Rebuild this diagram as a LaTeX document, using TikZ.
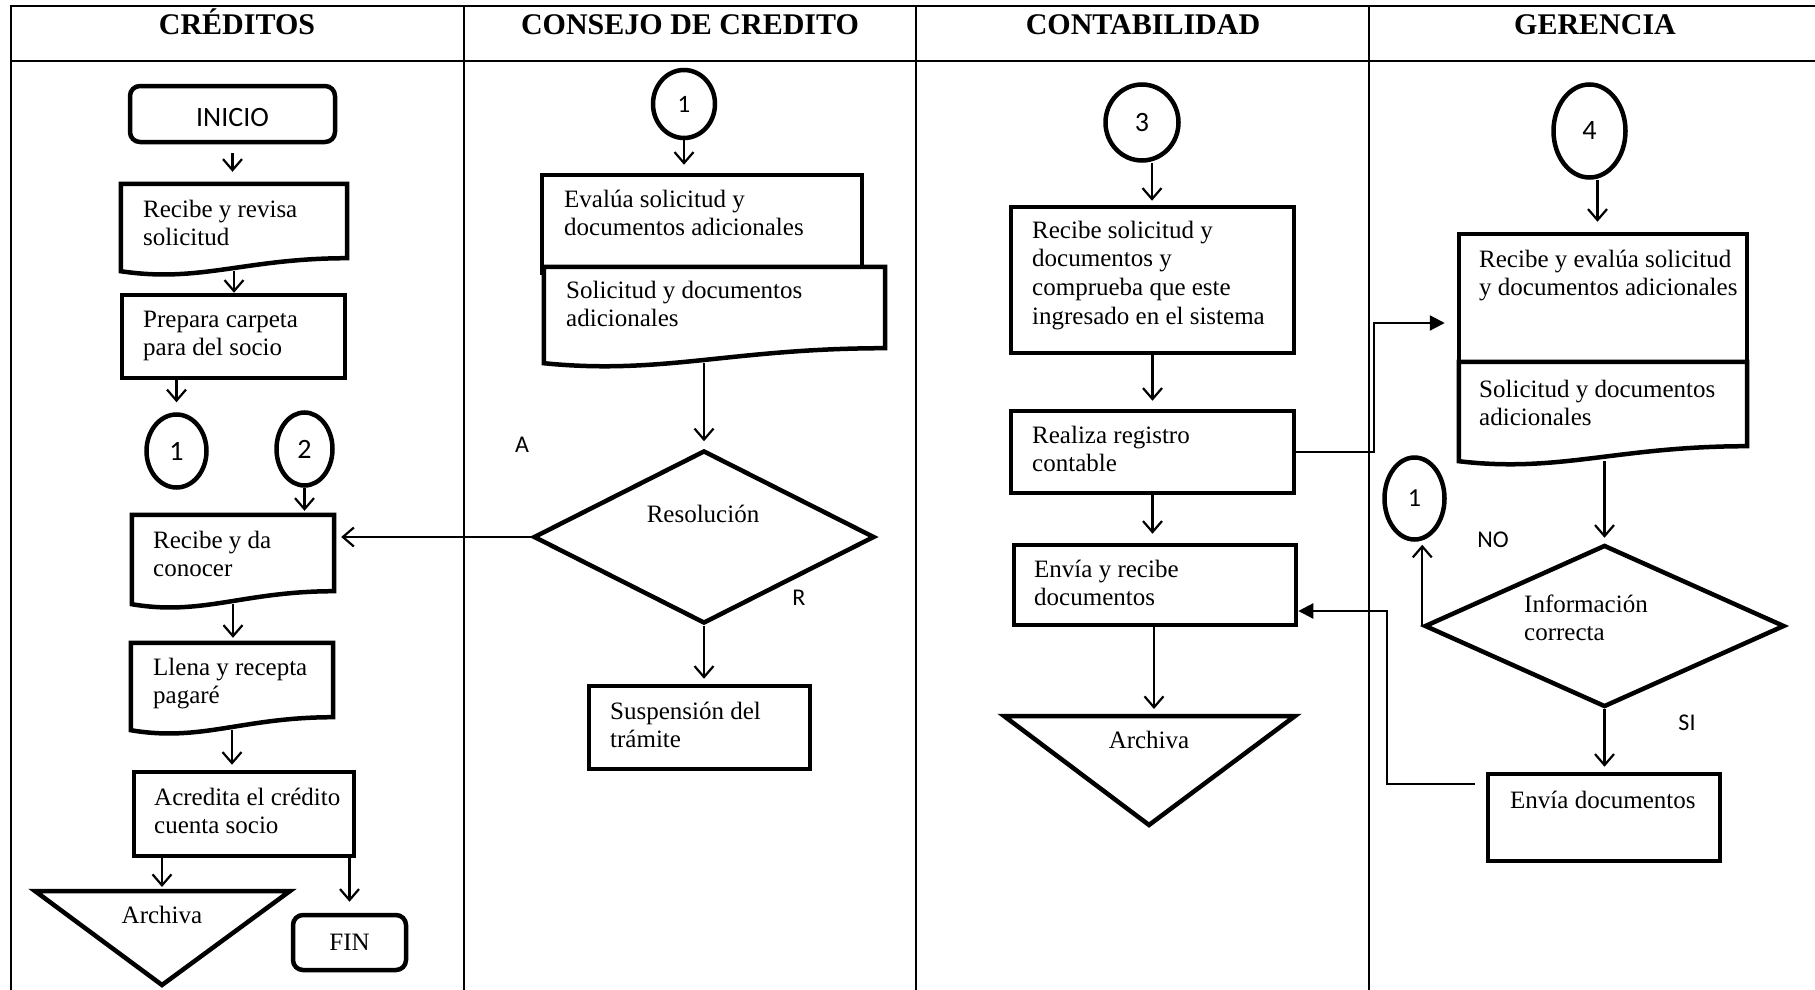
\documentclass[tikz,border=0pt]{standalone}
\usepackage{fontspec}
\setmainfont{Liberation Serif}
\newfontfamily\calfont{Carlito}
\usetikzlibrary{arrows.meta,shapes.geometric,fit,calc}
\newcommand\docshape[2]{%
  \draw[line width=4.5, fill=white] (#1.north west) -- (#1.north east) -- ($(#1.south east)+(0,-#2)$)
    .. controls ($(#1.south west)!0.55!(#1.south east)+(0,-#2)$) and ($(#1.south west)!0.35!(#1.south east)+(0,12)$) .. (#1.south west) -- cycle;}
\begin{document}
\begin{tikzpicture}[x=1pt,y=-1pt,
  frame/.style={line width=2.2},
  boxline/.style={draw, line width=4.5},
  proc/.style={boxline, rectangle, inner sep=0},
  term/.style={boxline, rectangle, rounded corners=10, inner sep=0},
  area/.style={inner sep=0},
  conn/.style={boxline, ellipse, inner sep=0, font=\calfont\fontsize{28}{30}\selectfont},
  dec/.style={boxline, diamond, inner sep=0},
  txt/.style={font=\fontsize{25}{28.8}\selectfont, align=left, inner sep=0},
  two/.style={txt, anchor=base west, yshift=-28.8pt},
  four/.style={txt, anchor=base west, yshift=-86.4pt},
  title/.style={font=\bfseries\fontsize{30}{36}\selectfont, inner sep=0},
  lab/.style={font=\calfont\fontsize{24}{28}\selectfont, inner sep=0},
  arr/.style={line width=2.2, -{Straight Barb[length=11,width=19]}},
  farr/.style={line width=2.2, -{Triangle[length=15,width=15]}},
]
\fill[white] (0,0) rectangle (1815,990);
\useasboundingbox (0,0) rectangle (1815,990);

% ---------- frame ----------
\draw[frame] (1815,6) -- (11,6) -- (11,990);
\draw[frame] (11,61) -- (1815,61);
\draw[frame] (464,6) -- (464,990);
\draw[frame] (916,6) -- (916,990);
\draw[frame] (1369,6) -- (1369,990);
\node[title, anchor=base] (h1) at (237,35) {CRÉDITOS};
\node[title, anchor=base] (h2) at (690,35) {CONSEJO DE CREDITO};
\node[title, anchor=base] (h3) at (1143,35) {CONTABILIDAD};
\node[title, anchor=base] (h4) at (1595,35) {GERENCIA};

% ---------- CREDITOS ----------
\node[term, fit={(130,86) (335,142)}] (inicio) {};
\node[lab, font=\calfont\fontsize{28}{30}\selectfont] (t-inicio) at (232.5,118) {INICIO};
\node[area, fit={(121,184) (347,271)}] (rec1) {};
\docshape{rec1}{13}
\node[two] (t-rec1) at (143,217) {Recibe y revisa\\solicitud};
\node[proc, fit={(122,295) (345,378)}] (prep) {};
\node[two] (t-prep) at (143,327) {Prepara carpeta\\para del socio};
\node[conn, minimum width=60, minimum height=73] (c1) at (176.5,451) {1};
\node[conn, minimum width=56, minimum height=73] (c2) at (304.5,449) {2};
\node[area, fit={(132,515) (334,604)}] (rec2) {};
\docshape{rec2}{13}
\node[two] (t-rec2) at (153,548) {Recibe y da\\conocer};
\node[area, fit={(131,643) (333,730)}] (fill) {};
\docshape{fill}{13}
\node[two] (t-fill) at (153,675) {Llena y recepta\\pagaré};
\node[proc, fit={(134,772) (354,856)}] (acred) {};
\node[two] (t-acred) at (154,805) {Acredita el crédito\\cuenta socio};
\coordinate (a1l) at (35,891);
\coordinate (a1r) at (290,891);
\coordinate (a1b) at (162,985);
\coordinate (a1top) at (162,891);
\draw[line width=4.5] (a1l) -- (a1r) -- (a1b) -- cycle;
\node[txt, anchor=base] (t-arch1) at (162,923) {Archiva};
\node[term, fit={(293,915) (406,970)}] (fin) {};
\node[txt, anchor=base] (t-fin) at (349.5,950) {FIN};

\draw[arr, shorten <=9, shorten >=12] (inicio.south) -- (inicio.south |- rec1.north);
\draw[arr] (rec1.south) -- (rec1.south |- prep.north);
\draw[arr, shorten >=10] (prep.south -| c1.north) -- (c1.north);
\draw[arr, shorten >=4] (c2.south) -- (c2.south |- rec2.north);
\draw[arr, shorten >=5] (rec2.south) -- (rec2.south |- fill.north);
\draw[arr, shorten >=5] (fill.south) -- (fill.south |- acred.north);
\draw[arr, shorten >=4] (acred.south -| a1top) -- (a1top);
\draw[arr, shorten >=11] (acred.south -| fin.north) -- (fin.north);

% ---------- CONSEJO ----------
\node[conn, minimum width=62, minimum height=68, font=\calfont\fontsize{25}{28}\selectfont] (cc1) at (684,104) {1};
\node[proc, fit={(542,175) (862,273)}] (eval) {};
\node[area, fit={(544,267) (885,363)}] (sol) {};
\docshape{sol}{15}
\node[two] (t-eval) at (564,207) {Evalúa solicitud y\\documentos adicionales};
\node[two] (t-sol) at (566,298) {Solicitud y documentos\\adicionales};
\node[dec, minimum width=341, minimum height=173] (res) at (704,537) {};
\node[txt, anchor=base] (t-res) at (703,522) {Resolución};
\node[lab] (la) at (522,445) {A};
\node[lab] (lr) at (799,598) {R};
\node[proc, fit={(589,686) (810,769)}] (susp) {};
\node[two] (t-susp) at (610,719) {Suspensión del\\trámite};

\draw[arr, shorten >=8] (cc1.south) -- (cc1.south |- eval.north);
\draw[arr, shorten >=7] (res.north |- sol.south) -- (res.north);
\draw[arr, shorten >=5] (res.south) -- (res.south |- susp.north);
\draw[arr, shorten >=7] (res.west) -- (res.west -| rec2.east);

% ---------- CONTABILIDAD ----------
\node[conn, minimum width=73, minimum height=76] (c3) at (1142,122.5) {3};
\node[proc, fit={(1011,207) (1294,353)}] (recsol) {};
\node[four] (t-recsol) at (1032,238) {Recibe solicitud y\\documentos y\\comprueba que este\\ingresado en el sistema};
\node[proc, fit={(1011,411) (1294,493)}] (realiza) {};
\node[two] (t-realiza) at (1032,443) {Realiza registro\\contable};
\node[proc, fit={(1014,545) (1296,625)}] (envrec) {};
\node[two] (t-envrec) at (1034,577) {Envía y recibe\\documentos};
\coordinate (a2l) at (1004,716);
\coordinate (a2r) at (1295,716);
\coordinate (a2b) at (1149,825);
\coordinate (a2top) at (1154,716);
\draw[line width=4.5] (a2l) -- (a2r) -- (a2b) -- cycle;
\node[txt, anchor=base] (t-arch2) at (1149,748) {Archiva};

\draw[arr, shorten >=4] ([xshift=10]c3.south) -- ([xshift=10]c3.south |- recsol.north);
\draw[arr, shorten >=8] (recsol.south) -- (recsol.south |- realiza.north);
\draw[arr, shorten >=9] (realiza.south) -- (realiza.south |- envrec.north);
\draw[arr, shorten >=7] (envrec.south -| a2top) -- (a2top);

% ---------- GERENCIA ----------
\node[conn, minimum width=72, minimum height=93] (c4) at (1589.5,131) {4};
\node[proc, fit={(1459,234) (1747,362)}] (receval) {};
\node[area, fit={(1459,362) (1747,461)}] (solg) {};
\docshape{solg}{15}
\node[two] (t-receval) at (1479,267) {Recibe y evalúa solicitud\\y documentos adicionales};
\node[two] (t-solg) at (1479,397) {Solicitud y documentos\\adicionales};
\node[conn, minimum width=60, minimum height=82, font=\calfont\fontsize{26}{28}\selectfont] (gc1) at (1414.5,498.5) {1};
\node[dec, minimum width=360, minimum height=162] (info) at (1604.5,626) {};
\node[two] (t-info) at (1524,612) {Información\\correcta};
\node[lab] (lno) at (1493,540) {NO};
\node[lab] (lsi) at (1687,723) {SI};
\node[proc, fit={(1488,774) (1720,861)}] (envdoc) {};
\node[txt, anchor=base west] (t-envdoc) at (1510,808) {Envía documentos};

\draw[arr, shorten >=10] ([xshift=8]c4.south) -- ([xshift=8]c4.south |- receval.north);
\draw[arr, shorten >=5] (info.north |- solg.south) -- (info.north);
\draw[arr, shorten >=3] (info.west) -- (info.west |- gc1.south);
\draw[arr, shorten >=5] (info.south) -- (info.south |- envdoc.north);

% cross-lane connectors
\coordinate (j1) at (1374,323);
\draw[farr, shorten >=12] (realiza.east) -| (j1) -- (j1 -| receval.west);
\coordinate (j2a) at (1475,784);
\coordinate (j2b) at (1387,611);
\draw[farr] (j2a) -| (j2b) -- (j2b -| envrec.east);
\end{tikzpicture}
\end{document}
